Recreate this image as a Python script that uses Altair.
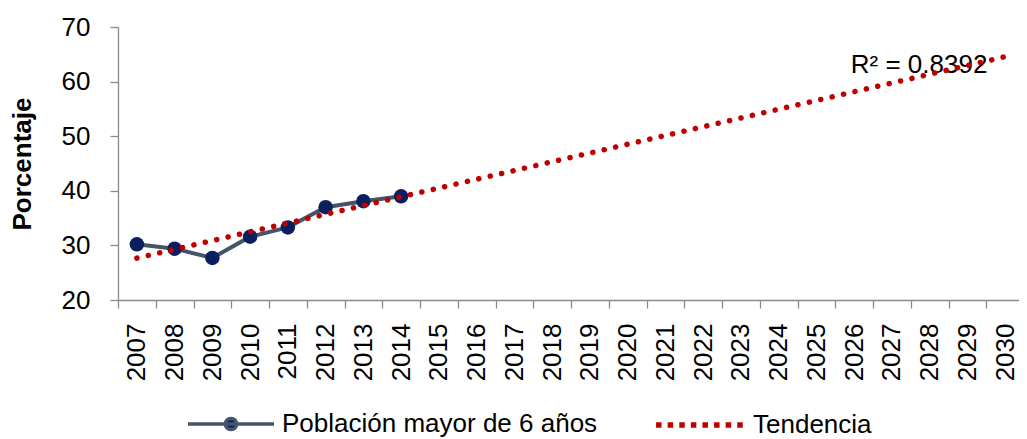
import altair as alt
import pandas as pd

# ---- data ----
anios = ["2007", "2008", "2009", "2010", "2011", "2012", "2013", "2014",
         "2015", "2016", "2017", "2018", "2019", "2020", "2021", "2022",
         "2023", "2024", "2025", "2026", "2027", "2028", "2029", "2030"]
anios_obs = ["2007", "2008", "2009", "2010", "2011", "2012", "2013", "2014"]
poblacion = [30.2, 29.4, 27.7, 31.6, 33.3, 37.0, 38.1, 39.0]
y_ticks = [20, 30, 40, 50, 60, 70]
serie_nombre = "Población mayor de 6 años"
tendencia_nombre = "Tendencia"
r2_texto = "R² = 0.8392"
r2_anio = "2028"
r2_valor = 63
extent_tend = [2007, 2030]

FONT = "Liberation Sans"
SLATE = "#44546a"
NAVY = "#0b1f5e"
RED = "#c00000"
GRAY = "#8a8a8a"

df = pd.DataFrame({
    "anio": anios_obs,
    "anio_num": [int(a) for a in anios_obs],
    "valor": poblacion,
    "serie": [serie_nombre] * len(anios_obs),
})
df_r2 = pd.DataFrame({"anio": [r2_anio], "valor": [r2_valor], "t": [r2_texto]})

x_scale = alt.Scale(type="band", domain=anios, paddingInner=0, paddingOuter=0,
                    range=[0, 906])
y_scale = alt.Scale(domain=[20, 70], nice=False, zero=False)

x_axis = alt.Axis(title=None, labelAngle=270, tickBand="extent", tickSize=8,
                  labelPadding=15, labelFontSize=26, labelFont=FONT,
                  labelColor="#000000", domainColor=GRAY, tickColor=GRAY,
                  domainWidth=1.3, tickWidth=1.3, grid=False)
y_axis = alt.Axis(title="Porcentaje", values=y_ticks, tickSize=8, labelPadding=20,
                  labelFontSize=26, labelFont=FONT, labelColor="#000000",
                  titleFont=FONT, titleFontSize=26, titleFontWeight="bold",
                  titleColor="#000000", titlePadding=26,
                  domainColor=GRAY, tickColor=GRAY, domainWidth=1.3, tickWidth=1.3,
                  grid=False)

X = alt.X("anio:O", scale=x_scale, axis=x_axis, bandPosition=0.5)
Y = alt.Y("valor:Q", scale=y_scale, axis=y_axis)

linea = alt.Chart(df).mark_line(strokeWidth=4).encode(
    x=X, y=Y,
    stroke=alt.Stroke("serie:N",
                      scale=alt.Scale(domain=[serie_nombre], range=[SLATE]),
                      legend=alt.Legend(
                          title=None, orient="none", legendX=68, legendY=352,
                          symbolType="M-1,0H1M-0.13,0A0.13,0.13,0,1,0,0.13,0A0.13,0.13,0,1,0,-0.13,0Z",
                          symbolSize=7396, symbolStrokeWidth=3.5,
                          symbolFillColor=NAVY, labelFontSize=26, labelFont=FONT,
                          labelColor="#000000", labelOffset=6, labelLimit=600,
                          padding=0)),
)

puntos = alt.Chart(df).mark_point(filled=True, size=210, opacity=1, color=NAVY).encode(
    x=X, y=Y
)

texto = alt.Chart(df_r2).mark_text(font=FONT, fontSize=26, color="#000000",
                                   align="center", baseline="middle").encode(
    x=alt.X("anio:O", scale=x_scale, axis=x_axis, bandPosition=0.22), y=Y, text="t:N"
)

tend = alt.Chart(df).transform_regression(
    "anio_num", "valor", extent=extent_tend
).transform_calculate(
    anio="toString(datum.anio_num)", tend=f"'{tendencia_nombre}'"
).mark_line(strokeWidth=5.5, strokeCap="round", strokeDash=[0.1, 11.6]).encode(
    x=X, y=Y,
    color=alt.Color("tend:N",
                    scale=alt.Scale(domain=[tendencia_nombre], range=[RED]),
                    legend=alt.Legend(
                        title=None, orient="none", legendX=535, legendY=350.5,
                        symbolType="stroke", symbolSize=7900, symbolStrokeWidth=5.5,
                        symbolDash=[5.5, 6.1],
                        labelFontSize=26, labelFont=FONT, labelColor="#000000",
                        labelOffset=5, labelLimit=600, padding=0)),
)

chart = alt.layer(linea, puntos, texto, tend).properties(
    width=901, height=273,
    padding={"left": 110, "top": 19, "right": 0, "bottom": 139},
    autosize=alt.AutoSizeParams(type="none"),
    background="#ffffff",
).configure_view(strokeWidth=0)

chart.save("out.html", embed_options={"renderer": "svg", "actions": False})
